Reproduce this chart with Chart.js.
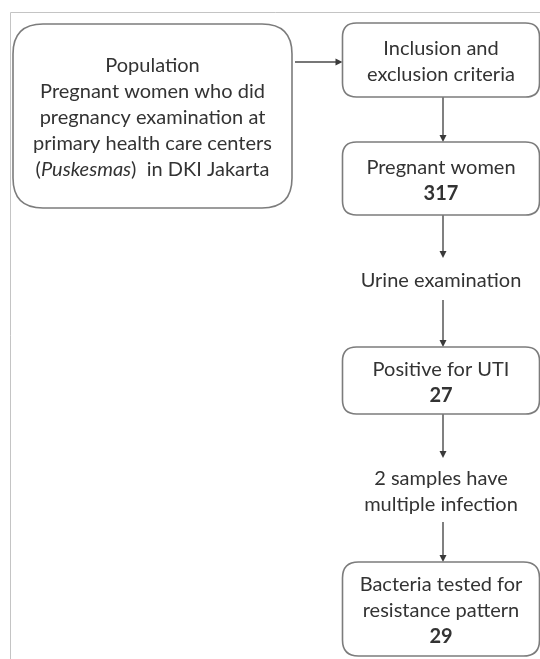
<!DOCTYPE html>
<html>
<head>
<meta charset="utf-8">
<script src="https://cdn.jsdelivr.net/npm/chart.js@4.4.1/dist/chart.umd.min.js"></script>
<style>
  html, body { margin: 0; padding: 0; background: #fff; }
  #flow { display: block; }
</style>
</head>
<body>
<canvas id="flow" width="540" height="659"></canvas>
<script>
// Flowchart steps (text lines) and counts
const stepLines = [
    ['Population', 'Pregnant women who did', 'pregnancy examination at', 'primary health care centers', '(Puskesmas)  in DKI Jakarta'],
    ['Inclusion and', 'exclusion criteria'],
    ['Pregnant women'],
    ['Urine examination'],
    ['Positive for UTI'],
    ['2 samples have', 'multiple infection'],
    ['Bacteria tested for', 'resistance pattern']
];
const stepCounts = [null, null, 317, null, 27, null, 29];
// diagram coordinates (x 0-540, y 0-659): box centres and sizes
const stepX = [152.5, 441, 441, 441, 441, 441, 441];
const stepY = [116, 60, 178.5, 279, 380.5, 490, 609];
const stepW = [279, 197, 197, 197, 197, 197, 197];
const stepH = [184, 74, 73, 42, 67, 64, 94];
const stepBoxed = [true, true, true, false, true, false, true];
const stepRadius = [30, 14, 14, 0, 14, 0, 16];
// arrows: [from, to]
const links = [[0, 1], [1, 2], [2, 3], [3, 4], [4, 5], [5, 6]];

const FONT = 'Lato';
const FONT_SIZE = 20;
const LINE_H = 26;

function roundRect(ctx, x, y, w, h, r) {
    ctx.beginPath();
    ctx.moveTo(x + r, y);
    ctx.lineTo(x + w - r, y);
    ctx.quadraticCurveTo(x + w, y, x + w, y + r);
    ctx.lineTo(x + w, y + h - r);
    ctx.quadraticCurveTo(x + w, y + h, x + w - r, y + h);
    ctx.lineTo(x + r, y + h);
    ctx.quadraticCurveTo(x, y + h, x, y + h - r);
    ctx.lineTo(x, y + r);
    ctx.quadraticCurveTo(x, y, x + r, y);
    ctx.closePath();
}

function arrow(ctx, x1, y1, x2, y2) {
    ctx.strokeStyle = '#4a4a4a';
    ctx.fillStyle = '#3a3a3a';
    ctx.lineWidth = 1.4;
    const ang = Math.atan2(y2 - y1, x2 - x1);
    const len = 7;
    ctx.beginPath();
    ctx.moveTo(x1, y1);
    ctx.lineTo(x2 - Math.cos(ang) * 3, y2 - Math.sin(ang) * 3);
    ctx.stroke();
    ctx.beginPath();
    ctx.moveTo(x2, y2);
    ctx.lineTo(x2 - len * Math.cos(ang) + 3.5 * Math.sin(ang), y2 - len * Math.sin(ang) - 3.5 * Math.cos(ang));
    ctx.lineTo(x2 - len * Math.cos(ang) - 3.5 * Math.sin(ang), y2 - len * Math.sin(ang) + 3.5 * Math.cos(ang));
    ctx.closePath();
    ctx.fill();
}

// draws a text line, with the Puskesmas word in italics
function drawLine(ctx, txt, cx, cy, bold) {
    const normal = (bold ? 'bold ' : '') + FONT_SIZE + 'px ' + FONT;
    const m = txt.match(/^\((\w+)\)(.*)$/);
    if (!m) {
        ctx.font = normal;
        ctx.textAlign = 'center';
        ctx.fillText(txt, cx, cy);
        return;
    }
    const italic = 'italic ' + FONT_SIZE + 'px ' + FONT;
    const parts = [['(', normal], [m[1], italic], [')' + m[2], normal]];
    let total = 0;
    parts.forEach(p => { ctx.font = p[1]; total += ctx.measureText(p[0]).width; });
    let x = cx - total / 2;
    ctx.textAlign = 'left';
    parts.forEach(p => {
        ctx.font = p[1];
        ctx.fillText(p[0], x, cy);
        x += ctx.measureText(p[0]).width;
    });
}

const flowPlugin = {
    id: 'flow',
    beforeDraw(chart) {
        const ctx = chart.ctx;
        const xs = chart.scales.x, ys = chart.scales.y;
        // light frame on top and left
        ctx.save();
        ctx.strokeStyle = '#c4c4c4';
        ctx.lineWidth = 1;
        ctx.beginPath();
        ctx.moveTo(xs.getPixelForValue(540), ys.getPixelForValue(12) + 0.5);
        ctx.lineTo(xs.getPixelForValue(10) + 0.5, ys.getPixelForValue(12) + 0.5);
        ctx.lineTo(xs.getPixelForValue(10) + 0.5, ys.getPixelForValue(659));
        ctx.stroke();
        ctx.restore();
    },
    afterDatasetsDraw(chart) {
        const ctx = chart.ctx;
        const xs = chart.scales.x, ys = chart.scales.y;
        const box = i => {
            const l = xs.getPixelForValue(stepX[i] - stepW[i] / 2);
            const r = xs.getPixelForValue(stepX[i] + stepW[i] / 2);
            const t = ys.getPixelForValue(stepY[i] - stepH[i] / 2);
            const b = ys.getPixelForValue(stepY[i] + stepH[i] / 2);
            return { l, r, t, b, cx: (l + r) / 2, cy: (t + b) / 2 };
        };
        ctx.save();
        // arrows
        links.forEach(([a, b]) => {
            const A = box(a), B = box(b);
            if (Math.abs(A.cx - B.cx) > 50) {
                arrow(ctx, A.r + 3, B.cy + 2, B.l, B.cy + 2);
            } else {
                const x = B.cx + 2;
                arrow(ctx, x, A.b, x, B.t);
            }
        });
        // boxes and text
        stepLines.forEach((lines, i) => {
            const B = box(i);
            if (stepBoxed[i]) {
                roundRect(ctx, B.l, B.t, B.r - B.l, B.b - B.t, stepRadius[i]);
                ctx.fillStyle = '#ffffff';
                ctx.fill();
                ctx.strokeStyle = '#7c7c7c';
                ctx.lineWidth = 1.6;
                ctx.stroke();
            }
            const all = lines.slice();
            if (stepCounts[i] !== null) all.push(String(stepCounts[i]));
            const startY = B.cy - (all.length - 1) * LINE_H / 2 + 2;
            ctx.fillStyle = '#333333';
            ctx.textBaseline = 'middle';
            all.forEach((t, k) => {
                const bold = stepCounts[i] !== null && k === all.length - 1;
                drawLine(ctx, t, B.cx, startY + k * LINE_H, bold);
            });
        });
        ctx.restore();
    }
};

const chart = new Chart(document.getElementById('flow').getContext('2d'), {
    type: 'scatter',
    data: {
        datasets: [{
            data: stepX.map((x, i) => ({ x: x, y: stepY[i] })),
            pointRadius: 0,
            pointHoverRadius: 0
        }]
    },
    options: {
        responsive: false,
        animation: false,
        events: [],
        layout: { padding: 0 },
        scales: {
            x: { type: 'linear', min: 0, max: 540, display: false },
            y: { type: 'linear', min: 0, max: 659, reverse: true, display: false }
        },
        plugins: { legend: { display: false }, tooltip: { enabled: false } }
    },
    plugins: [flowPlugin]
});
</script>
</body>
</html>
